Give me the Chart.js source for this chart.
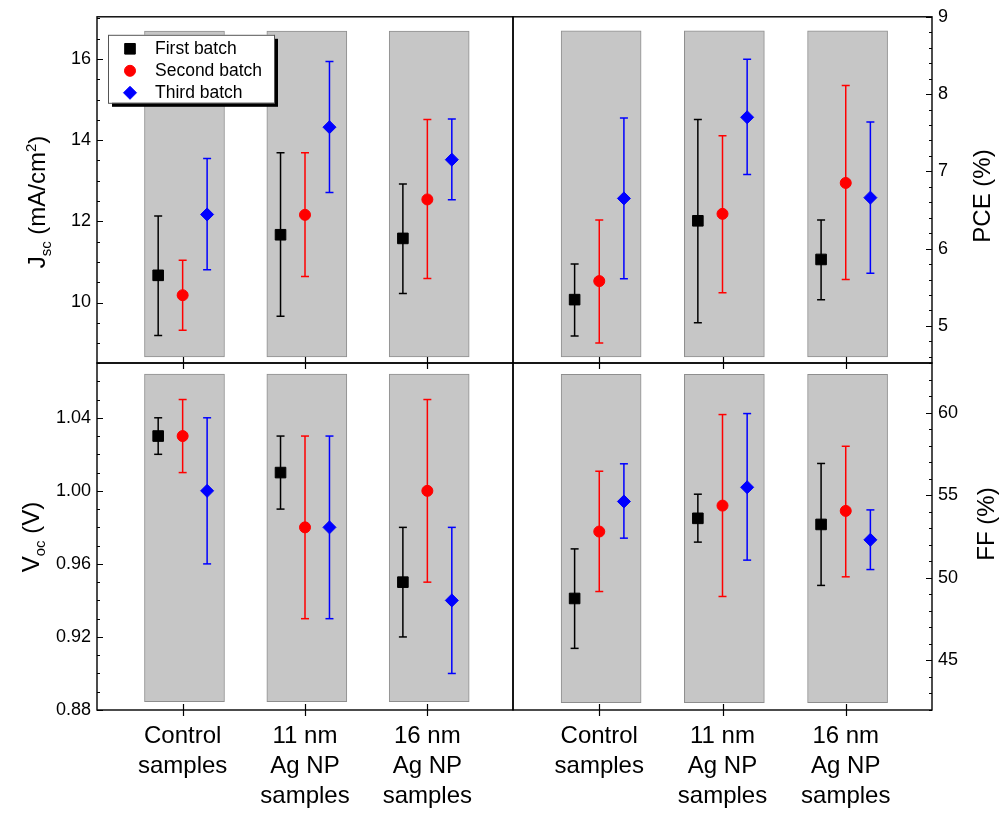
<!DOCTYPE html>
<html>
<head>
<meta charset="utf-8">
<title>Jsc, PCE, Voc and FF by batch</title>
<script src="https://cdn.jsdelivr.net/npm/chart.js@4.4.1/dist/chart.umd.min.js"></script>
<style>
  body { margin: 0; background: #fff; }
  #wrap { position: relative; width: 1000px; height: 814px; font-family: "Liberation Sans", Arial, sans-serif; }
  canvas { position: absolute; left: 0; top: 0; }
  .ytitle { position: absolute; transform: translate(-50%, -50%) rotate(-90deg); white-space: nowrap; font-size: 24px; color: #000; line-height: 24px; }
  .ytitle sub, .ytitle sup { font-size: 15px; line-height: 0; }
</style>
</head>
<body>
<div id="wrap">
  <canvas id="jsc" width="1000" height="814"></canvas>
  <canvas id="pce" width="1000" height="814"></canvas>
  <canvas id="voc" width="1000" height="814"></canvas>
  <canvas id="ff" width="1000" height="814"></canvas>
  <div class="ytitle" style="left:37px;top:202px">J<sub>sc</sub> (mA/cm<sup>2</sup>)</div>
  <div class="ytitle" style="left:982px;top:196px">PCE (%)</div>
  <div class="ytitle" style="left:31px;top:537px">V<sub>oc</sub> (V)</div>
  <div class="ytitle" style="left:986px;top:524px">FF (%)</div>
</div>
<script>
var categories = [["Control", "samples"], ["11 nm", "Ag NP", "samples"], ["16 nm", "Ag NP", "samples"]];
var batches = ["First batch", "Second batch", "Third batch"];
var xTicks = [0, 1, 2];

// one row per batch, one column per sample type
// Jsc (mA/cm2)
var jscMean = [[10.67, 11.67, 11.58], [10.18, 12.16, 12.54], [12.17, 14.32, 13.52]];
var jscLow  = [[9.19, 9.66, 10.22], [9.32, 10.64, 10.59], [10.81, 12.71, 12.53]];
var jscHigh = [[12.13, 13.69, 12.92], [11.04, 13.69, 14.51], [13.55, 15.94, 14.52]];
var jscTicks = [10, 12, 14, 16];
var jscBox = [8.66, 16.69];

// PCE (%)
var pceMean = [[5.34, 6.36, 5.86], [5.58, 6.45, 6.85], [6.65, 7.70, 6.66]];
var pceLow  = [[4.87, 5.04, 5.34], [4.78, 5.43, 5.60], [5.61, 6.96, 5.68]];
var pceHigh = [[5.80, 7.67, 6.37], [6.37, 7.46, 8.11], [7.69, 8.45, 7.64]];
var pceTicks = [5, 6, 7, 8, 9];
var pceBox = [4.60, 8.82];

// Voc (V)
var vocMean = [[1.03, 1.01, 0.95], [1.03, 0.98, 1.00], [1.00, 0.98, 0.94]];
var vocLow  = [[1.02, 0.99, 0.92], [1.01, 0.93, 0.95], [0.96, 0.93, 0.90]];
var vocHigh = [[1.04, 1.03, 0.98], [1.05, 1.03, 1.05], [1.04, 1.03, 0.98]];
var vocTicks = [0.88, 0.92, 0.96, 1.00, 1.04];
var vocBox = [0.8845, 1.064];

// FF (%)
var ffMean = [[48.75, 53.6, 53.23], [52.8, 54.37, 54.05], [54.62, 55.48, 52.3]];
var ffLow  = [[45.73, 52.16, 49.54], [49.17, 48.87, 50.06], [52.4, 51.07, 50.5]];
var ffHigh = [[51.75, 55.06, 56.92], [56.45, 59.88, 57.96], [56.9, 59.94, 54.11]];
var ffTicks = [45, 50, 55, 60];
var ffBox = [42.45, 62.31];

var colors = ["#000000", "#ff0000", "#0000ff"];
var shapes = ["rect", "circle", "rectRot"];
var sizes = [7.5, 5.5, 6.5];
var shift = [-0.2, 0, 0.2];

Chart.defaults.font.family = '"Liberation Sans", Arial, sans-serif';
Chart.defaults.color = "#000";

// draws the panel frame, the tick marks and (top-left only) the legend box
var framePlugin = {
  id: "frame",
  afterDraw: function (chart, args, opts) {
    var ctx = chart.ctx, a = chart.chartArea, ys = chart.scales.y, xs = chart.scales.x;
    ctx.save();
    ctx.strokeStyle = "#000";
    ctx.lineWidth = 1.4;
    ctx.strokeRect(a.left, a.top, a.right - a.left, a.bottom - a.top);

    var edge = opts.side === "left" ? a.left : a.right;
    var dir = opts.side === "left" ? 1 : -1;
    ctx.lineWidth = 1.2;
    ctx.beginPath();
    var k0 = Math.ceil(ys.min / opts.minor - 1e-6), k1 = Math.floor(ys.max / opts.minor + 1e-6);
    for (var k = k0; k <= k1; k++) {
      var v = k * opts.minor;
      var major = opts.ticks.some(function (t) { return Math.abs(t - v) < opts.minor / 10; });
      var py = Math.round(ys.getPixelForValue(v)) + 0.5;
      ctx.moveTo(edge, py);
      ctx.lineTo(edge + dir * (major ? 6 : 3), py);
    }
    xTicks.forEach(function (c) {
      var px = Math.round(xs.getPixelForValue(c)) + 0.5;
      ctx.moveTo(px, a.bottom - 6);
      ctx.lineTo(px, a.bottom + 6);
    });
    ctx.stroke();

    if (opts.legend) {
      var lx = a.left + 11, ly = a.top + 18, lw = 166, lh = 68;
      ctx.fillStyle = "#000";
      ctx.fillRect(lx + 4, ly + 4, lw, lh);
      ctx.fillStyle = "#fff";
      ctx.fillRect(lx, ly, lw, lh);
      ctx.lineWidth = 1;
      ctx.strokeStyle = "#555";
      ctx.strokeRect(lx + 0.5, ly + 0.5, lw, lh);
      ctx.font = '17.5px "Liberation Sans", Arial, sans-serif';
      ctx.textBaseline = "middle";
      batches.forEach(function (name, b) {
        var cy = ly + 14 + 22 * b;
        ctx.fillStyle = colors[b];
        ctx.strokeStyle = colors[b];
        ctx.lineWidth = 1;
        Chart.helpers.drawPoint(ctx, {pointStyle: shapes[b], radius: sizes[b], rotation: 0, borderWidth: 1}, lx + 22, cy);
        ctx.fillStyle = "#000";
        ctx.fillText(name, lx + 47, cy);
      });
    }
    ctx.restore();
  }
};

function buildDatasets(p) {
  var ds = [{
    type: "bar",
    label: "range",
    data: xTicks.map(function (c) { return {x: c + 0.015, y: p.box}; }),
    backgroundColor: "#c6c6c6",
    borderColor: "#8e8e8e",
    borderWidth: 1,
    borderSkipped: false,
    barThickness: 80,
    order: 3
  }];
  batches.forEach(function (name, b) {
    var err = [];
    xTicks.forEach(function (c, i) {
      err.push({x: c + shift[b], y: p.low[b][i]}, {x: c + shift[b], y: p.high[b][i]}, {x: c + shift[b], y: null});
    });
    ds.push({
      type: "scatter",
      label: name + " error",
      data: err,
      showLine: true,
      borderColor: colors[b],
      borderWidth: 1.5,
      pointStyle: "line",
      pointRadius: 4,
      pointBorderWidth: 1.5,
      pointBorderColor: colors[b],
      order: 2
    });
    ds.push({
      type: "scatter",
      label: name,
      data: xTicks.map(function (c, i) { return {x: c + shift[b], y: p.mean[b][i]}; }),
      pointStyle: shapes[b],
      pointRadius: sizes[b],
      pointBackgroundColor: colors[b],
      pointBorderColor: colors[b],
      pointBorderWidth: 1,
      order: 1
    });
  });
  return ds;
}

function makePanel(p) {
  var axisW = 60, xh = p.xLabels ? 100 : 0;
  var pad = {
    top: p.area[1],
    bottom: 814 - p.area[3] - xh,
    left: p.side === "left" ? p.area[0] - axisW : p.area[0],
    right: p.side === "left" ? 1000 - p.area[2] : 1000 - p.area[2] - axisW
  };
  new Chart(document.getElementById(p.id), {
    type: "scatter",
    data: {datasets: buildDatasets(p)},
    plugins: [framePlugin],
    options: {
      responsive: false,
      animation: false,
      events: [],
      layout: {padding: pad},
      plugins: {
        legend: {display: false},
        tooltip: {enabled: false},
        frame: {side: p.side, minor: p.minor, ticks: p.ticks, legend: p.legend}
      },
      scales: {
        x: {
          type: "linear",
          min: -0.7,
          max: 2.7,
          offset: false,
          grid: {display: false, drawTicks: false},
          border: {display: false},
          afterBuildTicks: function (s) { s.ticks = xTicks.map(function (v) { return {value: v}; }); },
          afterFit: function (s) { s.height = xh; },
          ticks: {
            display: p.xLabels,
            padding: 11,
            maxRotation: 0,
            autoSkip: false,
            font: {size: 24, lineHeight: 1.25},
            callback: function (v) { return categories[v]; }
          }
        },
        y: {
          type: "linear",
          position: p.side,
          min: p.min,
          max: p.max,
          grid: {display: false, drawTicks: false},
          border: {display: false},
          afterBuildTicks: function (s) { s.ticks = p.ticks.map(function (v) { return {value: v}; }); },
          afterFit: function (s) { s.width = axisW; },
          ticks: {
            padding: 6,
            font: {size: 18},
            callback: function (v) { return v.toFixed(p.dec); }
          }
        }
      }
    }
  });
}

makePanel({id: "jsc", mean: jscMean, low: jscLow, high: jscHigh, ticks: jscTicks, box: jscBox,
  min: 8.51, max: 17.04, minor: 0.5, dec: 0, side: "left", area: [97, 15, 513, 363], xLabels: false, legend: true});
makePanel({id: "pce", mean: pceMean, low: pceLow, high: pceHigh, ticks: pceTicks, box: pceBox,
  min: 4.52, max: 9, minor: 0.2, dec: 0, side: "right", area: [513, 15, 932, 363], xLabels: false, legend: false});
makePanel({id: "voc", mean: vocMean, low: vocLow, high: vocHigh, ticks: vocTicks, box: vocBox,
  min: 0.88, max: 1.07, minor: 0.01, dec: 2, side: "left", area: [97, 363, 513, 710], xLabels: true, legend: false});
makePanel({id: "ff", mean: ffMean, low: ffLow, high: ffHigh, ticks: ffTicks, box: ffBox,
  min: 42, max: 63, minor: 1, dec: 0, side: "right", area: [513, 363, 932, 710], xLabels: true, legend: false});
</script>
</body>
</html>
